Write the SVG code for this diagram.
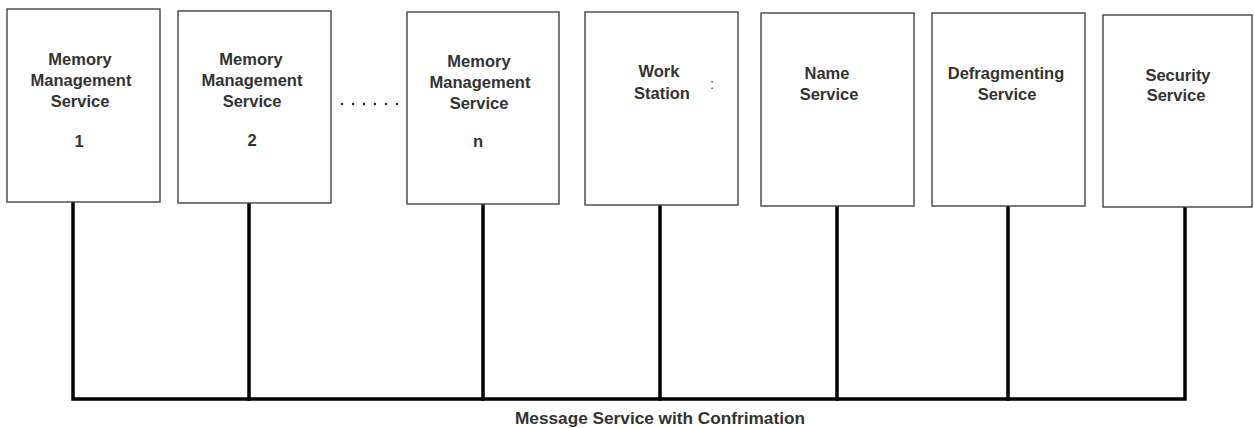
<svg xmlns="http://www.w3.org/2000/svg" width="1254" height="428" viewBox="0 0 1254 428">
<style>
.box{fill:#fff;stroke:#444;stroke-width:1.4}
.lbl{font-family:"Liberation Sans",Arial,sans-serif;font-weight:bold;font-size:16.5px;fill:#333;text-anchor:middle}
.bus{fill:none;stroke:#000;stroke-width:3.5;stroke-linecap:square}
.dot{fill:#222}
</style>
<rect width="1254" height="428" fill="#fff"/>
<g id="connectors">
<polyline class="bus" points="73,203 73,399 1185,399 1185,208"/>
<line class="bus" x1="249" y1="204" x2="249" y2="399"/>
<line class="bus" x1="483" y1="205" x2="483" y2="399"/>
<line class="bus" x1="660" y1="206" x2="660" y2="399"/>
<line class="bus" x1="837" y1="207" x2="837" y2="399"/>
<line class="bus" x1="1008" y1="207" x2="1008" y2="399"/>
</g>
<g id="mms1">
<rect class="box" x="7" y="9" width="153" height="193"/>
<text class="lbl" x="80" y="65">Memory</text>
<text class="lbl" x="81" y="86">Management</text>
<text class="lbl" x="80" y="107">Service</text>
<text class="lbl" x="79" y="147">1</text>
</g>
<g id="mms2">
<rect class="box" x="178" y="11" width="153" height="192"/>
<text class="lbl" x="251" y="65">Memory</text>
<text class="lbl" x="252" y="86">Management</text>
<text class="lbl" x="252" y="107">Service</text>
<text class="lbl" x="252" y="146">2</text>
</g>
<g id="ellipsis">
<circle class="dot" cx="342" cy="104" r="1.2"/>
<circle class="dot" cx="353" cy="104" r="1.2"/>
<circle class="dot" cx="364" cy="104" r="1.2"/>
<circle class="dot" cx="375" cy="104" r="1.2"/>
<circle class="dot" cx="386" cy="104" r="1.2"/>
<circle class="dot" cx="397" cy="104" r="1.2"/>
</g>
<g id="mmsn">
<rect class="box" x="407" y="12" width="152" height="192"/>
<text class="lbl" x="479" y="67">Memory</text>
<text class="lbl" x="480" y="88">Management</text>
<text class="lbl" x="479" y="109">Service</text>
<text class="lbl" x="478" y="147">n</text>
</g>
<g id="workstation">
<rect class="box" x="585" y="12" width="153" height="193"/>
<text class="lbl" x="659" y="77">Work</text>
<text class="lbl" x="662" y="99">Station</text>
<text x="712" y="89" style="font-family:'Liberation Sans',Arial,sans-serif;font-size:15px;fill:#555;text-anchor:middle">:</text>
</g>
<g id="name">
<rect class="box" x="761" y="13" width="153" height="193"/>
<text class="lbl" x="827" y="79">Name</text>
<text class="lbl" x="829" y="100">Service</text>
</g>
<g id="defrag">
<rect class="box" x="932" y="13" width="153" height="193"/>
<text class="lbl" x="1006" y="79">Defragmenting</text>
<text class="lbl" x="1007" y="100">Service</text>
</g>
<g id="security">
<rect class="box" x="1103" y="15" width="149" height="192"/>
<text class="lbl" x="1178" y="81">Security</text>
<text class="lbl" x="1176" y="101">Service</text>
</g>
<text class="lbl" x="660" y="424" style="font-size:16px" textLength="290" lengthAdjust="spacingAndGlyphs">Message Service with Confrimation</text>
</svg>
